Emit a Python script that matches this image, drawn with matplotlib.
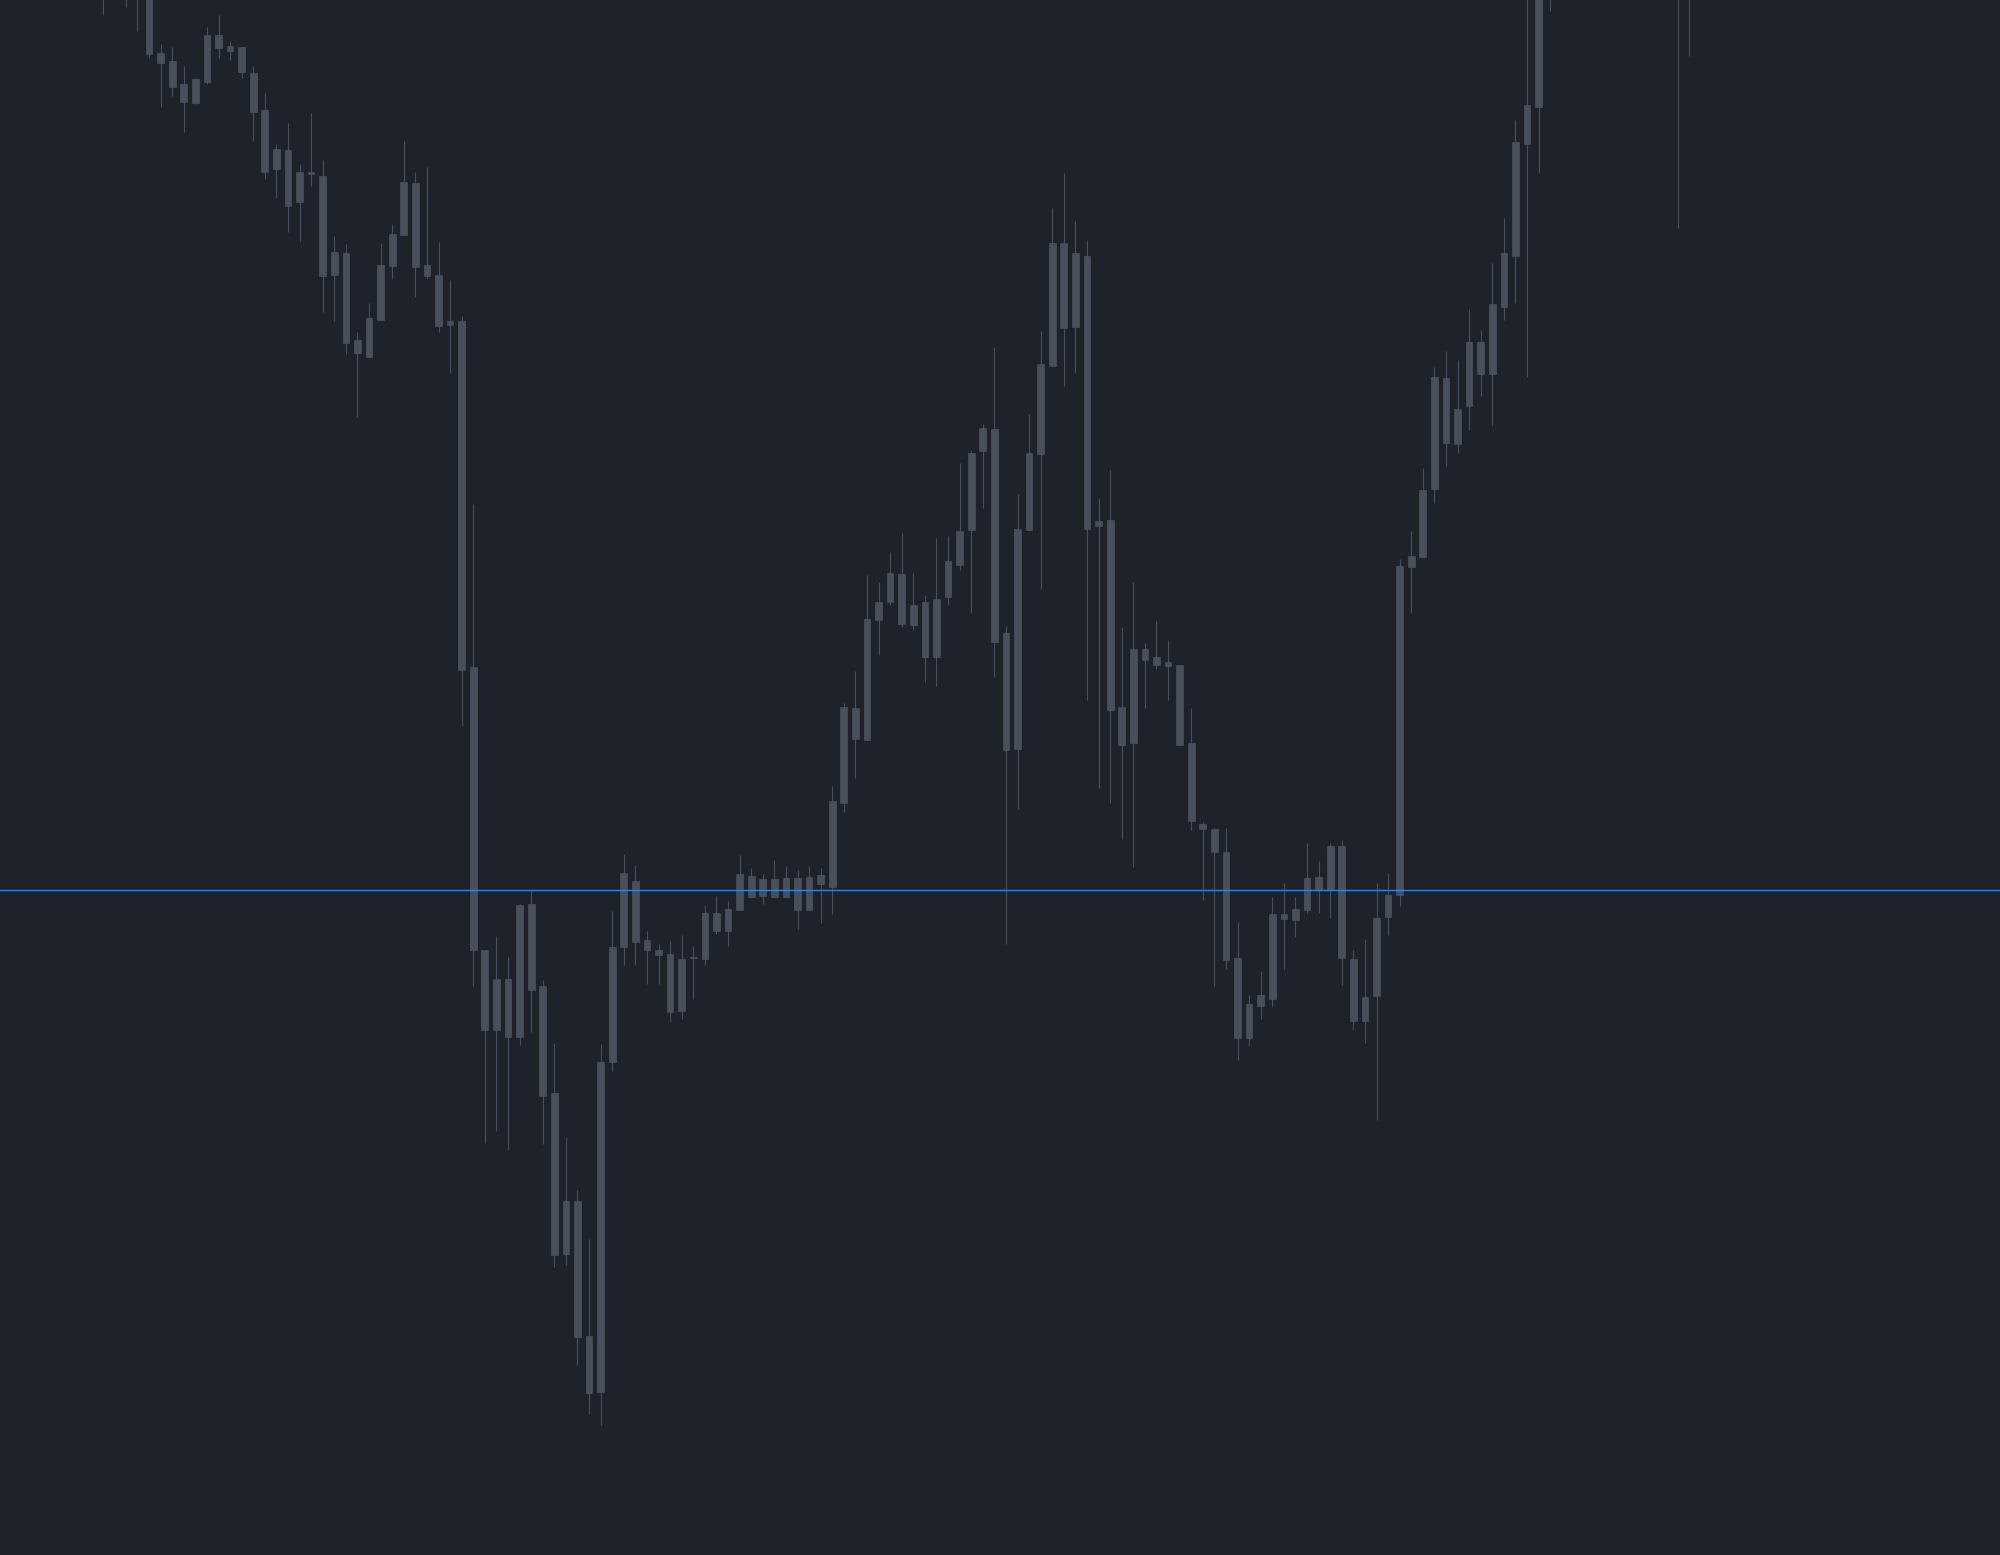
import numpy as np
import matplotlib
matplotlib.use("Agg")
import matplotlib.pyplot as plt

# OHLC values (price units, one entry per candle)
opens = [2050, 2020, 2030, 2003, 2010, 1947, 1939, 1916, 1897, 1918,
         1965, 1954, 1953, 1927, 1890, 1831, 1850, 1798, 1828, 1824,
         1725, 1747, 1660, 1643, 1680, 1734, 1765, 1817, 1735, 1725,
         1675, 1679, 1333, 1050, 970, 1021, 963, 1096, 1014, 907,
         746, 799, 664, 608, 938, 1053, 1119, 1060, 1050, 1046,
         989, 1042, 1041, 1087, 1069, 1090, 1124, 1104, 1121, 1103,
         1122, 1090, 1125, 1113, 1197, 1292, 1260, 1380, 1398, 1426,
         1375, 1398, 1343, 1403, 1435, 1470, 1549, 1571, 1367, 1251,
         1470, 1546, 1634, 1757, 1673, 1744, 1474, 1480, 1293, 1257,
         1351, 1335, 1338, 1335, 1257, 1176, 1171, 1148, 1042, 962,
         994, 1001, 1086, 1080, 1090, 1123, 1110, 1154, 1041, 979,
         1004, 1083, 1105, 1433, 1443, 1511, 1622, 1556, 1594, 1658,
         1626, 1693, 1744, 1856, 1893, 2005, 2060, 2110, 2090, 2160,
         2140, 2210, 2190, 2250, 2200, 2150, 2100, 2060]
highs = [2070, 2045, 2045, 2050, 2020, 1956, 1953, 1934, 1922, 1973,
         1985, 1959, 1953, 1934, 1907, 1856, 1877, 1836, 1887, 1840,
         1764, 1756, 1668, 1697, 1757, 1776, 1859, 1828, 1833, 1758,
         1720, 1684, 1496, 1050, 1064, 1043, 1096, 1110, 1020, 957,
         863, 810, 761, 956, 1089, 1146, 1135, 1069, 1056, 1059,
         1065, 1054, 1095, 1104, 1099, 1145, 1132, 1126, 1140, 1134,
         1130, 1134, 1132, 1214, 1297, 1329, 1425, 1418, 1448, 1467,
         1427, 1405, 1462, 1464, 1537, 1549, 1576, 1653, 1374, 1506,
         1586, 1669, 1792, 1827, 1779, 1760, 1502, 1530, 1373, 1418,
         1357, 1379, 1360, 1335, 1292, 1178, 1172, 1172, 1078, 1005,
         1029, 1103, 1117, 1103, 1157, 1139, 1157, 1160, 1050, 1061,
         1117, 1127, 1441, 1469, 1532, 1633, 1649, 1640, 1691, 1670,
         1737, 1782, 1880, 2020, 2060, 2080, 2130, 2150, 2180, 2200,
         2240, 2260, 2280, 2290, 2230, 2190, 2130, 2090]
lows = [1985, 2005, 1993, 1969, 1942, 1893, 1904, 1868, 1896, 1916,
        1942, 1940, 1922, 1859, 1821, 1802, 1768, 1759, 1814, 1688,
        1679, 1646, 1583, 1643, 1680, 1721, 1765, 1703, 1721, 1668,
        1627, 1274, 1014, 857, 869, 850, 955, 968, 856, 733,
        735, 635, 586, 575, 929, 1035, 1035, 1016, 1016, 978,
        981, 1001, 1035, 1066, 1054, 1090, 1103, 1096, 1103, 1103,
        1071, 1090, 1077, 1086, 1188, 1222, 1260, 1345, 1395, 1373,
        1370, 1318, 1314, 1395, 1430, 1387, 1492, 1323, 1056, 1191,
        1470, 1411, 1634, 1614, 1627, 1300, 1212, 1197, 1161, 1133,
        1292, 1331, 1300, 1255, 1170, 1100, 1014, 1031, 940, 954,
        981, 993, 1031, 1063, 1087, 1087, 1082, 1015, 970, 957,
        880, 1065, 1094, 1387, 1443, 1497, 1534, 1547, 1570, 1604,
        1575, 1680, 1697, 1623, 1827, 1989, 2040, 2070, 2080, 2120,
        2120, 2150, 2170, 2160, 2110, 2060, 1772, 1944]
closes = [2003, 2008, 2002, 2035, 1946, 1937, 1913, 1898, 1921, 1965,
          1952, 1949, 1928, 1888, 1828, 1851, 1794, 1828, 1826, 1724,
          1748, 1657, 1647, 1682, 1735, 1766, 1818, 1733, 1724, 1674,
          1679, 1330, 1050, 970, 1021, 963, 1095, 1010, 904, 745,
          799, 663, 607, 938, 1053, 1127, 1058, 1050, 1045, 988,
          1041, 1043, 1087, 1069, 1091, 1126, 1103, 1121, 1103, 1122,
          1090, 1123, 1116, 1199, 1293, 1261, 1381, 1398, 1427, 1376,
          1395, 1343, 1401, 1439, 1469, 1547, 1572, 1358, 1250, 1471,
          1547, 1636, 1757, 1672, 1747, 1471, 1479, 1290, 1255, 1351,
          1340, 1343, 1334, 1255, 1179, 1171, 1148, 1040, 962, 996,
          1005, 1086, 1081, 1091, 1122, 1110, 1154, 1042, 979, 1003,
          1082, 1105, 1434, 1444, 1510, 1623, 1557, 1591, 1658, 1626,
          1696, 1747, 1858, 1895, 2040, 2060, 2110, 2090, 2160, 2140,
          2210, 2190, 2250, 2200, 2150, 2100, 2060, 2030]

# horizontal price line
level = 1110

bg = '#1f2228'
candle_color = '#4a505b'
line_color = '#2b84e6'

o = np.array(opens, dtype=float)
h = np.array(highs, dtype=float)
l = np.array(lows, dtype=float)
c = np.array(closes, dtype=float)
x = np.arange(len(o))

fig = plt.figure(figsize=(20, 15.55), dpi=100, facecolor=bg)
ax = fig.add_axes([0, 0, 1, 1])
ax.set_facecolor(bg)

# wicks then bodies
ax.vlines(x, l, h, color=candle_color, linewidth=0.8, zorder=2)
body_bottom = np.minimum(o, c)
body_height = np.maximum(np.abs(c - o), 1.5)
ax.bar(x, body_height, bottom=body_bottom, width=0.58, color=candle_color,
       edgecolor='#525966', linewidth=0.4, zorder=3)

ax.axhline(level, color=line_color, linewidth=1.0, zorder=4)

# candle spacing of ~11.58 px, first visible candle at ~103 px
step = 11.58
ax.set_xlim(-102.7 / step, (2000 - 102.7) / step)
ax.set_ylim(445, 2000)
ax.axis('off')

plt.savefig('out.png', dpi=100, facecolor=bg)
plt.close()
